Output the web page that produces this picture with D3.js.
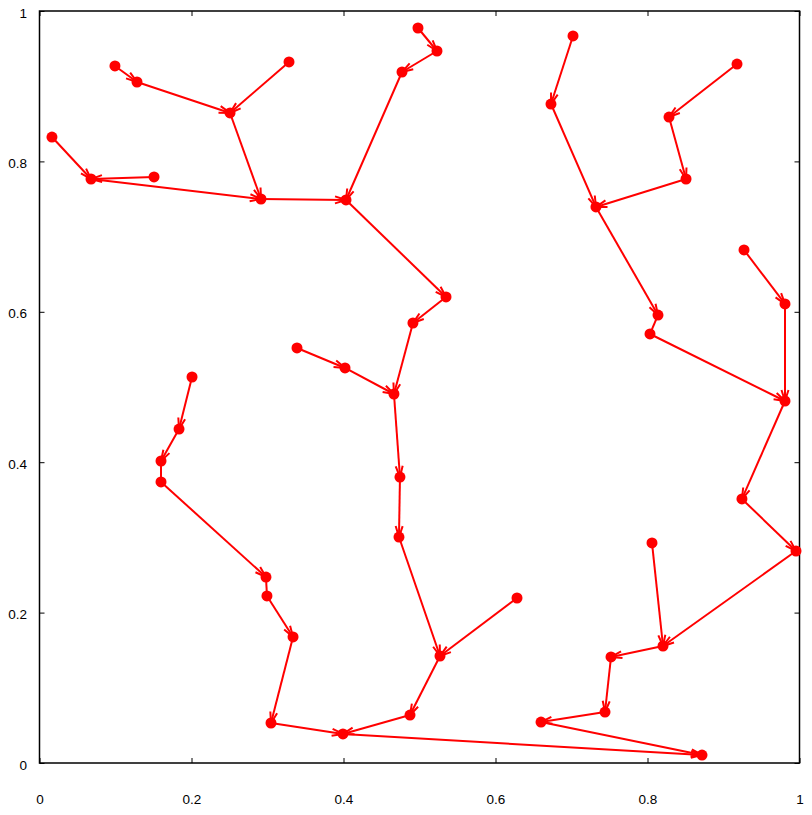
<!DOCTYPE html>
<html>
<head>
<meta charset="utf-8">
<script src="https://cdn.jsdelivr.net/npm/d3@7"></script>
<style>
  html, body { margin: 0; padding: 0; background: #fff; }
  svg { display: block; }
  text { font-family: "Liberation Sans", Arial, sans-serif; font-size: 13.5px; fill: #000; }
</style>
</head>
<body>
<script>
// Node positions (data units)
const nodeX = [0.0993,0.1283,0.2507,0.3283,0.2914,0.0164,0.1507,0.0678,0.4033,0.4980,
               0.5230,0.4770,0.5349,0.4914,0.4664,0.3388,0.4020,0.4743,0.4730,0.5270,
               0.6283,0.4875,0.3993,0.2007,0.1836,0.1599,0.1599,0.2980,0.2993,0.3336,
               0.3046,0.8717,0.7020,0.6730,0.7322,0.9178,0.8283,0.8507,0.8138,0.8033,
               0.9270,0.9809,0.9809,0.9243,0.9954,0.8204,0.8059,0.7520,0.7441,0.6599];
const nodeY = [0.9269,0.9056,0.8644,0.9322,0.7500,0.8324,0.7793,0.7766,0.7487,0.9774,
               0.9468,0.9189,0.6197,0.5851,0.4907,0.5519,0.5253,0.3803,0.3005,0.1423,
               0.2194,0.0638,0.0386,0.5133,0.4441,0.4016,0.3737,0.2473,0.2221,0.1676,
               0.0532,0.0106,0.9668,0.8763,0.7394,0.9295,0.8590,0.7766,0.5957,0.5705,
               0.6822,0.6104,0.4814,0.3511,0.2819,0.1556,0.2926,0.1410,0.0678,0.0545];
// Directed edges (source index -> target index)
const edgeFrom = [0,1,3,2,5,6,7,4,9,10,11,8,12,13,15,16,14,17,18,20,19,21,23,24,25,26,27,28,29,30,22,
                  32,33,35,36,37,34,38,40,41,39,42,43,44,46,45,47,48,49];
const edgeTo   = [1,2,2,4,7,7,4,8,10,11,8,12,13,14,16,14,17,18,19,19,21,22,24,25,26,27,28,29,30,22,31,
                  33,34,36,37,34,38,39,41,42,42,43,44,45,45,47,48,49,31];
const tickValues = [0, 0.2, 0.4, 0.6, 0.8, 1];
const tickLabels = ["0", "0.2", "0.4", "0.6", "0.8", "1"];

(function () {
const W = 812, H = 815;
const mLeft = 39.5, mRight = 799.5, mTop = 11, mBottom = 763;

const svg = d3.select("body").append("svg").attr("width", W).attr("height", H);

const x = d3.scaleLinear().domain([0, 1]).range([mLeft, mRight]);
const y = d3.scaleLinear().domain([0, 1]).range([mBottom, mTop]);

const fmt = (d) => tickLabels[tickValues.indexOf(d)];

// Axes with inward ticks
const gx = svg.append("g").attr("transform", `translate(0,${mBottom})`)
  .call(d3.axisBottom(x).tickValues(tickValues).tickFormat(fmt).tickSize(-5).tickPadding(31));
const gxt = svg.append("g").attr("transform", `translate(0,${mTop})`)
  .call(d3.axisTop(x).tickValues(tickValues).tickFormat("").tickSize(-5));
const gy = svg.append("g").attr("transform", `translate(${mLeft},0)`)
  .call(d3.axisLeft(y).tickValues(tickValues).tickFormat(fmt).tickSize(-5).tickPadding(12.5));
const gyr = svg.append("g").attr("transform", `translate(${mRight},0)`)
  .call(d3.axisRight(y).tickValues(tickValues).tickFormat("").tickSize(-5));

[gx, gxt, gy, gyr].forEach(g => {
  g.select(".domain").remove();
  g.selectAll("line").attr("stroke", "#000").attr("stroke-width", 1);
  g.selectAll("text").attr("font-family", '"Liberation Sans", Arial, sans-serif').attr("font-size", 13.5).attr("fill", "#000");
});
gy.selectAll("text").attr("dy", "0.45em");

svg.append("rect")
  .attr("x", x(0)).attr("y", y(1))
  .attr("width", x(1) - x(0)).attr("height", y(0) - y(1))
  .attr("fill", "none").attr("stroke", "#000").attr("stroke-width", 1.5);

// Arrow marker
svg.append("defs").append("marker")
  .attr("id", "head")
  .attr("markerUnits", "userSpaceOnUse")
  .attr("viewBox", "-12 -6 14 12")
  .attr("refX", 0).attr("refY", 0)
  .attr("markerWidth", 14).attr("markerHeight", 12)
  .attr("orient", "auto")
  .append("path")
  .attr("d", "M-11,-3.5 L0,0 L-11,3.5")
  .attr("fill", "none")
  .attr("stroke", "#ff0000")
  .attr("stroke-width", 2);

const edges = edgeFrom.map((s, i) => {
  const x1 = x(nodeX[s]), y1 = y(nodeY[s]), x2 = x(nodeX[edgeTo[i]]), y2 = y(nodeY[edgeTo[i]]);
  return { x1, y1, x2, y2, len: Math.hypot(x2 - x1, y2 - y1) };
});

svg.append("g").selectAll("line").data(edges).join("line")
  .attr("x1", d => d.x1).attr("y1", d => d.y1)
  .attr("x2", d => d.x2).attr("y2", d => d.y2)
  .attr("stroke", "#ff0000").attr("stroke-width", 2)
  .attr("marker-end", d => d.len > 25 ? "url(#head)" : null);

svg.append("g").selectAll("circle").data(nodeX).join("circle")
  .attr("cx", (d) => x(d)).attr("cy", (d, i) => y(nodeY[i]))
  .attr("r", 5.5).attr("fill", "#ff0000");
})();
</script>
</body>
</html>
